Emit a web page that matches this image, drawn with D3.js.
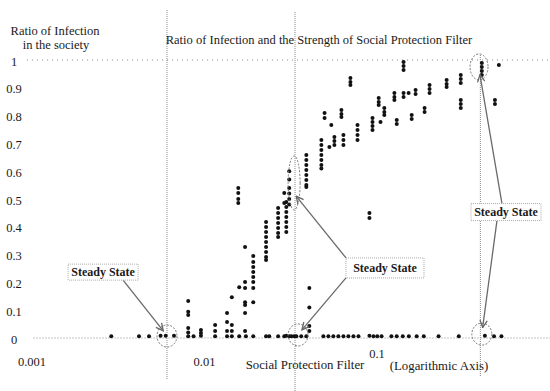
<!DOCTYPE html>
<html>
<head>
<meta charset="utf-8">
<script src="https://cdn.jsdelivr.net/npm/d3@7"></script>
<style>
  body { margin: 0; background: #fff; }
  text { font-family: "Liberation Serif", "DejaVu Serif", serif; fill: #1a1a1a; }
</style>
</head>
<body>
<figure id="scatter" style="margin:0"></figure>
<script>
// near-zero runs (filter strength -> infection ratio)
const lowFilter = [0.0029, 0.0042, 0.0048, 0.0056, 0.0060, 0.0067, 0.0081, 0.0087, 0.0096, 0.0116,
  0.0136, 0.0145, 0.016, 0.0175, 0.0193, 0.0229, 0.0239, 0.0269, 0.0292, 0.030, 0.0312, 0.0321,
  0.0333, 0.0343, 0.0366, 0.0392, 0.0492, 0.0526, 0.0562, 0.0601, 0.0643, 0.0687, 0.0735, 0.0786,
  0.091, 0.096, 0.101, 0.107, 0.122, 0.131, 0.142, 0.154, 0.171, 0.188, 0.229, 0.300, 0.425, 0.48, 0.53];
const lowRatio = [0.006, 0.006, 0.006, 0.008, 0.008, 0.008, 0.006, 0.006, 0.008, 0.006,
  0.006, 0.006, 0.006, 0.006, 0.006, 0.006, 0.006, 0.006, 0.006, 0.008, 0.006, 0.006,
  0.006, 0.006, 0.006, 0.006, 0.006, 0.006, 0.006, 0.006, 0.006, 0.006, 0.006, 0.006,
  0.008, 0.006, 0.006, 0.006, 0.006, 0.006, 0.006, 0.006, 0.006, 0.006, 0.006, 0.006, 0.008, 0.006, 0.006];

// columns of runs that left the zero state
const colFilter = [0.0081, 0.0096, 0.0116, 0.0136, 0.0145, 0.0158, 0.016, 0.0173, 0.0193, 0.0229,
  0.0269, 0.0292, 0.030, 0.0312, 0.0392, 0.0408, 0.0479, 0.050, 0.0533, 0.0547, 0.057, 0.0626,
  0.0643, 0.0706, 0.0776, 0.091, 0.0948, 0.103, 0.1055, 0.111, 0.127, 0.131, 0.1435, 0.1535,
  0.16, 0.1685, 0.19, 0.203, 0.255, 0.308, 0.408, 0.486, 0.512];
const colRatios = [
  [0.133, 0.094, 0.083, 0.036, 0.02],
  [0.029, 0.018],
  [0.047, 0.025],
  [0.090, 0.058, 0.025],
  [0.147, 0.047, 0.025],
  [0.540, 0.522, 0.500, 0.486],
  [0.183],
  [0.327, 0.201, 0.180, 0.129, 0.119, 0.090, 0.025],
  [0.295, 0.273, 0.255, 0.237, 0.219, 0.201, 0.180, 0.129],
  [0.417, 0.399, 0.381, 0.363, 0.345, 0.327, 0.309, 0.291, 0.281],
  [0.468, 0.450, 0.432, 0.414, 0.396, 0.378, 0.363],
  [0.522, 0.486],
  [0.489, 0.471, 0.453, 0.435, 0.417, 0.399, 0.381],
  [0.60, 0.57, 0.54, 0.52, 0.50, 0.48],
  [0.658, 0.640, 0.622, 0.604, 0.586, 0.568, 0.550, 0.543],
  [0.18, 0.11, 0.043, 0.025],
  [0.712, 0.694, 0.676, 0.658, 0.640, 0.622, 0.61],
  [0.809, 0.791],
  [0.687],
  [0.766],
  [0.723, 0.709, 0.694],
  [0.820, 0.806, 0.795],
  [0.730, 0.712, 0.694],
  [0.935, 0.921, 0.910],
  [0.766, 0.748, 0.730, 0.712],
  [0.450, 0.432],
  [0.791, 0.777, 0.763, 0.748],
  [0.863, 0.849, 0.838],
  [0.777],
  [0.827, 0.813, 0.802],
  [0.881, 0.867, 0.856],
  [0.784, 0.770],
  [0.993, 0.978, 0.964, 0.881, 0.867],
  [0.881],
  [0.802, 0.788],
  [0.892, 0.878],
  [0.827, 0.813],
  [0.910, 0.896, 0.881],
  [0.928, 0.914, 0.903],
  [0.946, 0.932, 0.917, 0.856, 0.842, 0.827],
  [0.989, 0.975, 0.960, 0.946],
  [0.856, 0.842],
  [0.982]
];

const xTicks = [0.001, 0.01, 0.1];
const yTicks = [0, 0.1, 0.2, 0.3, 0.4, 0.5, 0.6, 0.7, 0.8, 0.9, 1];

// steady state markers: filter value of the guide line, circled spots, label spot
const steadyLines = [0.0061, 0.0337, 0.40];
const steadySpots = [[0.0061, 0.007], [0.0351, 0.011], [0.408, 0.014], [0.0333, 0.558], [0.393, 0.975]];
const steadyLabels = [[0.0026, 0.237], [0.112, 0.252], [0.563, 0.453]];
const steadyArrows = [[0, 0], [1, 3], [1, 1], [2, 4], [2, 2]]; // label index -> spot index

const width = 550, height = 391;

const svg = d3.select("figure#scatter")
  .append("svg")
  .attr("width", width)
  .attr("height", height);

const x = d3.scaleLog().domain([0.001, 1]).range([31.5, 549]);
const y = d3.scaleLinear().domain([0, 1]).range([338, 60]);

const grey = "#8a8a8a";

// dotted lines at 0 and 1
svg.append("line")
  .attr("x1", 27).attr("x2", 548).attr("y1", y(1)).attr("y2", y(1))
  .attr("stroke", grey).attr("stroke-width", 1).attr("stroke-dasharray", "1,4");
svg.append("line")
  .attr("x1", x(0.001) + 2).attr("x2", 550).attr("y1", y(0)).attr("y2", y(0))
  .attr("stroke", grey).attr("stroke-width", 1).attr("stroke-dasharray", "1,2");

// steady state guide lines
const lineTops = [10, 12, 55], lineBottoms = [380, 391, 376];
svg.append("g").selectAll("line")
  .data(steadyLines)
  .enter()
  .append("line")
  .attr("x1", d => x(d)).attr("x2", d => x(d))
  .attr("y1", (d, i) => lineTops[i]).attr("y2", (d, i) => lineBottoms[i])
  .attr("stroke", grey).attr("stroke-width", 1).attr("stroke-dasharray", "1,1");

// Y axis
const yAxis = svg.append("g")
  .attr("transform", "translate(14,1)")
  .call(d3.axisLeft(y).tickValues(yTicks).tickSize(0).tickFormat(d3.format(".1~f")));
yAxis.select(".domain").remove();
yAxis.selectAll("text")
  .attr("x", 0)
  .style("text-anchor", "middle")
  .style("font-family", "Liberation Serif, serif")
  .style("font-size", "12.5px")
  .style("fill", "#1a1a1a");

// X axis (labels only)
const xAxis = svg.append("g")
  .attr("transform", "translate(0,357)")
  .call(d3.axisBottom(x).tickValues(xTicks).tickSize(0).tickFormat(d => d3.format("~g")(d)));
xAxis.select(".domain").remove();
xAxis.selectAll("text")
  .attr("y", 0)
  .attr("dy", "0.71em")
  .style("font-family", "Liberation Serif, serif")
  .style("font-size", "12.5px")
  .style("fill", "#1a1a1a");
xAxis.selectAll(".tick").filter(d => d === 0.1).select("text").attr("y", -8);

// dots
const dots = svg.append("g");
dots.selectAll("circle.low")
  .data(lowFilter.map((f, i) => [f, lowRatio[i]]))
  .enter()
  .append("circle")
  .attr("class", "low")
  .attr("cx", d => x(d[0]))
  .attr("cy", d => y(d[1]))
  .attr("r", 2)
  .style("fill", "#111");

const colPoints = [];
colFilter.forEach((f, i) => colRatios[i].forEach(r => colPoints.push([f, r])));
dots.selectAll("circle.col")
  .data(colPoints)
  .enter()
  .append("circle")
  .attr("class", "col")
  .attr("cx", d => x(d[0]))
  .attr("cy", d => y(d[1]))
  .attr("r", 2)
  .style("fill", "#111");

// circled steady states
const spotR = [[10, 11], [10, 11], [10, 11], [6, 27], [9, 13]];
svg.append("g").selectAll("ellipse")
  .data(steadySpots)
  .enter()
  .append("ellipse")
  .attr("cx", d => x(d[0]))
  .attr("cy", d => y(d[1]))
  .attr("rx", (d, i) => spotR[i][0])
  .attr("ry", (d, i) => spotR[i][1])
  .attr("fill", "none")
  .attr("stroke", "#777")
  .attr("stroke-width", 1)
  .attr("stroke-dasharray", "2,1.5");

// arrows
svg.append("defs").append("marker")
  .attr("id", "head")
  .attr("viewBox", "0 0 10 10")
  .attr("refX", 9).attr("refY", 5)
  .attr("markerWidth", 7).attr("markerHeight", 7)
  .attr("orient", "auto")
  .append("path")
  .attr("d", "M1,1 L9,5 L1,9")
  .attr("fill", "none")
  .attr("stroke", "#666")
  .attr("stroke-width", 1.4);

const boxW = [70, 78, 70], boxH = [16, 20, 17];
svg.append("g").selectAll("line")
  .data(steadyArrows)
  .enter()
  .append("line")
  .each(function (d) {
    const lx = x(steadyLabels[d[0]][0]), ly = y(steadyLabels[d[0]][1]);
    const s = steadySpots[d[1]], r = spotR[d[1]];
    const sx = x(s[0]), sy = y(s[1]);
    // start on the box edge facing the spot
    const w = boxW[d[0]] / 2, h = boxH[d[0]] / 2;
    let x1 = lx, y1 = ly;
    if (Math.abs(sx - lx) > w * 0.9 && d[0] !== 2) x1 = lx + Math.sign(sx - lx) * w;
    y1 = ly + Math.sign(sy - ly) * h;
    if (d[0] === 0) x1 = lx + 20;
    if (d[0] === 2) x1 = lx + (sy < ly ? -4 : -9);
    // end on the ellipse rim
    const ang = Math.atan2(y1 - sy, x1 - sx);
    const x2 = sx + r[0] * Math.cos(ang) * 0.6, y2 = sy + r[1] * Math.sin(ang) * 0.6;
    d3.select(this)
      .attr("x1", x1).attr("y1", y1).attr("x2", x2).attr("y2", y2)
      .attr("stroke", "#6a6a6a").attr("stroke-width", 1.3)
      .attr("marker-end", "url(#head)");
  });

// labels
const labels = svg.append("g").selectAll("g")
  .data(steadyLabels)
  .enter()
  .append("g")
  .attr("transform", d => "translate(" + x(d[0]) + "," + y(d[1]) + ")");
labels.append("rect")
  .attr("x", (d, i) => -boxW[i] / 2).attr("y", (d, i) => -boxH[i] / 2)
  .attr("width", (d, i) => boxW[i]).attr("height", (d, i) => boxH[i])
  .attr("fill", "#fff").attr("stroke", "#aaa").attr("stroke-dasharray", "1,1");
labels.append("text")
  .attr("text-anchor", "middle")
  .attr("dy", "0.35em")
  .style("font-size", "12px")
  .style("font-weight", "bold")
  .text("Steady State");

// titles
svg.append("text")
  .attr("x", 319).attr("y", 44)
  .style("text-anchor", "middle")
  .style("font-size", "12.5px")
  .text("Ratio of Infection and the Strength of Social Protection Filter");

const yLabel = svg.append("text")
  .attr("x", 55).attr("y", 35)
  .style("text-anchor", "middle")
  .style("font-size", "12.5px");
yLabel.append("tspan").attr("x", 55).text("Ratio of Infection");
yLabel.append("tspan").attr("x", 56).attr("dy", 14).text("in the society");

svg.append("text")
  .attr("x", 305).attr("y", 369)
  .style("text-anchor", "middle")
  .style("font-size", "12.8px")
  .text("Social Protection Filter");
svg.append("text")
  .attr("x", 439).attr("y", 370)
  .style("text-anchor", "middle")
  .style("font-size", "12.8px")
  .text("(Logarithmic Axis)");
</script>
</body>
</html>
